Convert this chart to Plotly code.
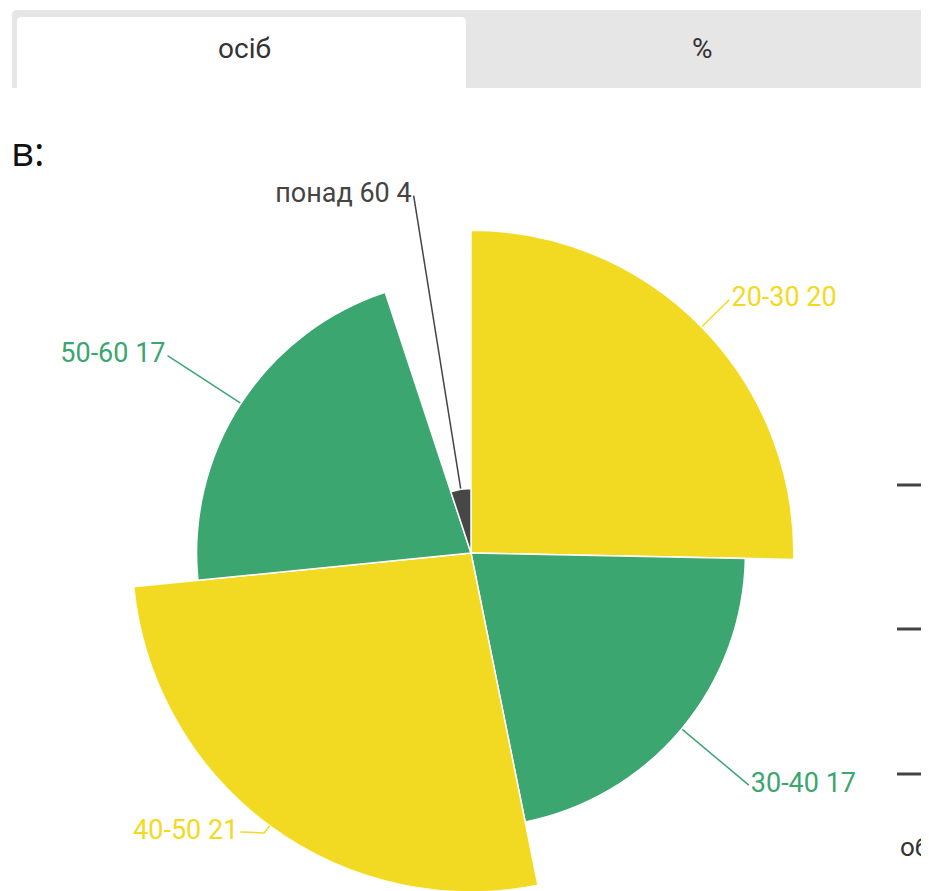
import math
import plotly.graph_objects as go

W, H = 929, 891
OFF = 8  # page body margin: the figure is drawn 8px right/down of the window

# data
age_groups = ["20-30", "30-40", "40-50", "50-60", "понад 60"]
people = [20, 17, 21, 17, 4]
slice_colors = ["#F3DA22", "#3BA66F", "#F3DA22", "#3BA66F", "#474747"]
label_colors = ["#F3DA22", "#3BA66F", "#F3DA22", "#3BA66F", "#444444"]
tab_labels = ["осіб", "%"]

# pie geometry in window pixels
CX, CY = 471, 553
R_PX = 339
R_MAX = 21
PX_PER_UNIT = R_PX / R_MAX
BEND_R = 348
LABEL_R = 362
LABEL_Y_MAX = 832

total = sum(people)
widths = [v / total * 360 for v in people]
mids = []
acc = 0
for w in widths:
    mids.append(acc + w / 2)
    acc += w


def polar_xy(r_px, theta):
    t = math.radians(theta)
    return CX + r_px * math.sin(t), CY - r_px * math.cos(t)


fig = go.Figure()

# variable-radius pie: the radius follows the value
fig.add_trace(go.Barpolar(
    r=people,
    theta=mids,
    width=widths,
    marker=dict(color=slice_colors, line=dict(color="white", width=1.5)),
    hoverinfo="skip",
))

# data labels with bent connectors (window-pixel overlay axes)
for g, v, t, c in zip(age_groups, people, mids, label_colors):
    right = t < 180
    x0, y0 = polar_xy(v * PX_PER_UNIT, t)
    xb, yb = polar_xy(BEND_R, t)
    xl, yl = polar_xy(LABEL_R, t)
    if yl > LABEL_Y_MAX:
        yl = LABEL_Y_MAX
        dx = math.sqrt(LABEL_R ** 2 - (yl - CY) ** 2)
        xl = CX + dx if right else CX - dx
    fig.add_trace(go.Scatter(
        x=[x0, xb, xl], y=[y0, yb, yl],
        mode="lines", line=dict(color=c, width=1.5),
        hoverinfo="skip", xaxis="x", yaxis="y",
    ))
    fig.add_trace(go.Scatter(
        x=[xl + (2 if right else -2)], y=[yl],
        mode="text", text=[f"{g} {v}"],
        textposition="middle right" if right else "middle left",
        textfont=dict(family="Roboto", size=27, color=c),
        hoverinfo="skip", xaxis="x", yaxis="y",
    ))

# tab bar at the top
shapes = [
    dict(type="path", xref="x", yref="y",
         path="M 12 88 L 12 15 Q 12 10 17 10 L 940 10 L 940 88 Z",
         fillcolor="#E6E6E6", line_width=0, layer="below"),
    dict(type="path", xref="x", yref="y",
         path="M 17 88 L 17 22 Q 17 17 22 17 L 461 17 Q 466 17 466 22 L 466 88 Z",
         fillcolor="white", line_width=0, layer="below"),
]
# dashes of the neighbouring panel on the right
for yy in [485, 629, 774]:
    shapes.append(dict(type="line", xref="x", yref="y", x0=897, x1=940, y0=yy, y1=yy,
                       line=dict(color="#444444", width=3)))

annotations = [
    dict(text=tab_labels[0], x=244, y=48, xref="x", yref="y", xanchor="center", yanchor="middle",
         showarrow=False, font=dict(family="Roboto", size=28, color="#333333")),
    dict(text=tab_labels[1], x=702, y=48, xref="x", yref="y", xanchor="center", yanchor="middle",
         showarrow=False, font=dict(family="Roboto", size=28, color="#333333")),
    dict(text="в:", x=OFF + 1, y=150, xref="x", yref="y", xanchor="left", yanchor="middle",
         showarrow=False, font=dict(family="Open Sans", size=40, color="#111111")),
    dict(text="об", x=898, y=847, xref="x", yref="y", xanchor="left", yanchor="middle",
         showarrow=False, font=dict(family="Roboto", size=26, color="#333333")),
]

fig.update_layout(
    width=W, height=H,
    margin=dict(l=0, r=0, t=0, b=0),
    paper_bgcolor="white",
    plot_bgcolor="rgba(0,0,0,0)",
    showlegend=False,
    shapes=shapes,
    annotations=annotations,
    xaxis=dict(range=[OFF, W + OFF], visible=False, fixedrange=True),
    yaxis=dict(range=[H + OFF, OFF], visible=False, fixedrange=True),
    polar=dict(
        domain=dict(x=[(CX - OFF - R_PX) / W, (CX - OFF + R_PX) / W],
                    y=[(H - (CY - OFF) - R_PX) / H, (H - (CY - OFF) + R_PX) / H]),
        bgcolor="rgba(0,0,0,0)",
        bargap=0,
        angularaxis=dict(rotation=90, direction="clockwise", showgrid=False,
                         showticklabels=False, showline=False, ticks=""),
        radialaxis=dict(range=[0, R_MAX], visible=False, showgrid=False),
    ),
)

fig.write_html("out.html")
